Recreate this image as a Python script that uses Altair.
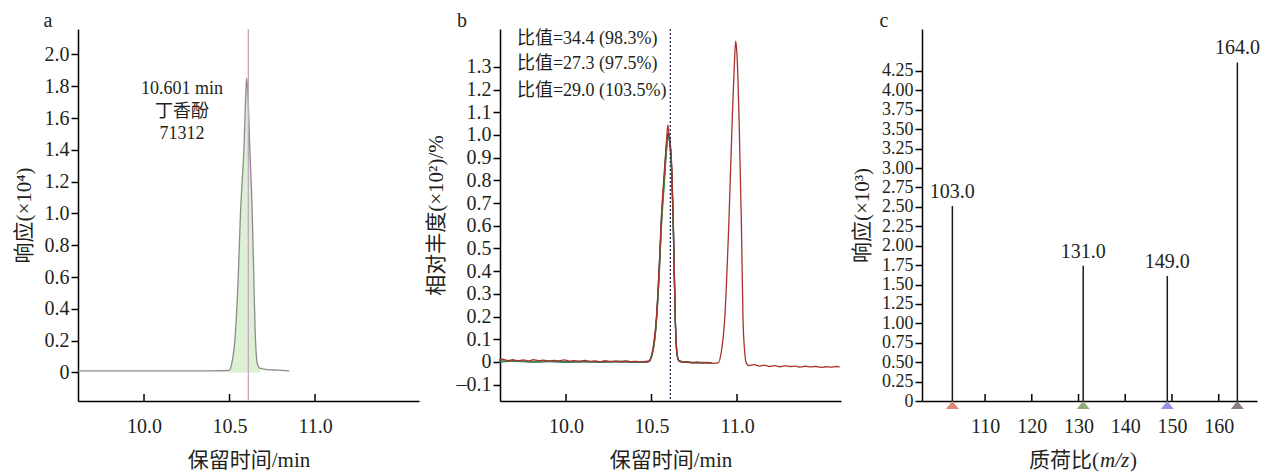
import altair as alt
import pandas as pd

# ---------------- data ----------------
# panel a: total ion chromatogram of 丁香酚
A_TIME = [9.61, 9.80, 10.00, 10.20, 10.40, 10.497, 10.512, 10.531, 10.551, 10.564, 10.584, 10.597,
          10.600, 10.605, 10.619, 10.633, 10.642, 10.652, 10.664, 10.68, 10.72, 10.78, 10.85]
A_RESP = [0.010, 0.010, 0.010, 0.010, 0.010, 0.012, 0.05, 0.20, 0.60, 1.00, 1.40, 1.80,
          1.85, 1.80, 1.40, 1.00, 0.60, 0.20, 0.05, 0.025, 0.018, 0.014, 0.010]
A_MARK_TIME = [10.61]
A_LABELS = ["10.601 min", "丁香酚", "71312"]
A_LABEL_Y = [1.785, 1.64, 1.50]
A_LABEL_X = [10.222, 10.222, 10.222]

# panel b: qualifier ion traces
Q_TIME = [9.61, 9.70, 9.80, 9.90, 10.00, 10.10, 10.20, 10.30, 10.40, 10.48, 10.505, 10.528, 10.545,
          10.557, 10.576, 10.588, 10.597, 10.607, 10.619, 10.627, 10.639, 10.648, 10.66, 10.70,
          10.75, 10.80, 10.85]
GREEN = [0.002, 0.004, 0.001, 0.003, 0.0, 0.002, -0.001, 0.002, 0.0, 0.001, 0.035, 0.17, 0.38,
         0.58, 0.80, 0.93, 0.99, 0.96, 0.80, 0.60, 0.18, 0.04, 0.006, 0.0, -0.002, -0.003, -0.004]
BLUE = [0.001, 0.003, 0.0, 0.002, -0.001, 0.001, 0.0, 0.001, -0.001, 0.0, 0.04, 0.18, 0.40,
        0.60, 0.82, 0.95, 1.0, 0.97, 0.82, 0.61, 0.19, 0.045, 0.004, -0.002, -0.004, -0.003, -0.005]
BLACK = [0.003, 0.005, 0.002, 0.004, 0.001, 0.003, 0.0, 0.003, 0.001, 0.002, 0.04, 0.18, 0.41,
         0.61, 0.83, 0.96, 1.01, 0.98, 0.83, 0.62, 0.19, 0.045, 0.005, -0.001, -0.003, -0.002, -0.004]
RED_TIME = [9.61, 9.63, 9.66, 9.69, 9.72, 9.75, 9.78, 9.81, 9.84, 9.87, 9.90, 9.93, 9.96, 9.99,
            10.02, 10.05, 10.08, 10.11, 10.14, 10.17, 10.20, 10.23, 10.26, 10.29, 10.32, 10.35,
            10.38, 10.41, 10.44, 10.47,
            10.49, 10.505, 10.528, 10.545, 10.557, 10.576, 10.588, 10.595, 10.603, 10.612, 10.619,
            10.627, 10.639, 10.648, 10.66,
            10.68, 10.71, 10.74, 10.77, 10.80, 10.83, 10.86,
            10.889, 10.908, 10.928, 10.953, 10.972, 10.985, 10.992, 11.0, 11.012, 11.025, 11.035,
            11.045, 11.054,
            11.07, 11.10, 11.13, 11.16, 11.19, 11.22, 11.25, 11.28, 11.31, 11.34, 11.37, 11.40,
            11.43, 11.46, 11.49, 11.52, 11.55, 11.58, 11.6]
RED = [0.008, 0.012, 0.006, 0.010, 0.005, 0.009, 0.004, 0.010, 0.006, 0.008,
       0.003, 0.007, 0.005, 0.009, 0.004, 0.006, 0.002, 0.007, 0.003, 0.005,
       0.001, 0.006, 0.002, 0.004, 0.0, 0.005, 0.001, 0.003, 0.0, 0.002,
       0.004, 0.044, 0.19, 0.42, 0.63, 0.85, 0.98, 1.044, 1.0, 0.93, 0.85, 0.63, 0.19, 0.044, 0.006,
       -0.002, 0.001, -0.004, 0.0, -0.005, -0.002, -0.006,
       -0.004, 0.044, 0.19, 0.63, 1.07, 1.32, 1.415, 1.35, 1.07, 0.63, 0.19, 0.044, -0.005,
       -0.016, -0.012, -0.018, -0.014, -0.020, -0.016, -0.021, -0.017, -0.020, -0.018, -0.023,
       -0.019, -0.022, -0.020, -0.024, -0.021, -0.023, -0.020, -0.022]
B_MARK_TIME = [10.61]
B_LABELS = ["比值=34.4 (98.3%)", "比值=27.3 (97.5%)", "比值=29.0 (103.5%)"]
B_LABEL_Y = [1.423, 1.313, 1.194]
B_LABEL_X = [9.713, 9.713, 9.713]

# panel c: mass spectrum
MZ = [103.0, 131.0, 149.0, 164.0]
MZ_RESP = [2.51, 1.74, 1.61, 4.36]
MZ_COLORS = ["#d98a70", "#8fae78", "#9393e0", "#8a7d7f"]
C_XTITLE = ["质荷比(", "m/z", ")"]

A_YTICKS = [0, 0.2, 0.4, 0.6, 0.8, 1.0, 1.2, 1.4, 1.6, 1.8, 2.0]
B_YTICKS = [-0.1, 0, 0.1, 0.2, 0.3, 0.4, 0.5, 0.6, 0.7, 0.8, 0.9, 1.0, 1.1, 1.2, 1.3]
C_YTICKS = [0, 0.25, 0.5, 0.75, 1.0, 1.25, 1.5, 1.75, 2.0, 2.25, 2.5, 2.75, 3.0, 3.25, 3.5,
            3.75, 4.0, 4.25]
T_XTICKS = [10.0, 10.5, 11.0]
C_XTICKS = [110, 120, 130, 140, 150, 160]

# ---------------- style ----------------
SERIF = "'Liberation Serif', 'Times New Roman', serif"
MIXED = "'Liberation Serif', 'Noto Sans CJK SC', serif"
INK = "#231f20"
W_AB, W_C, H = 341, 335, 372


def y_axis(values, title, expr, tpad, lsize=20):
    return alt.Axis(values=values, tickCount=100, title=title, labelExpr=expr, grid=False,
                    domainColor="black", domainWidth=1.5, tickColor="black", tickWidth=1.5,
                    tickSize=7, labelFont=SERIF, labelFontSize=lsize, labelColor=INK,
                    labelPadding=2, labelOverlap=False, labelFlush=False,
                    titleFont=MIXED, titleFontSize=21, titleFontWeight="normal",
                    titleColor=INK, titlePadding=tpad)


def x_axis(values, title, fmt):
    return alt.Axis(values=values, tickCount=100, title=title, format=fmt, grid=False, ticks=False,
                    domainColor="black", domainWidth=1.5, labelFont=SERIF, labelFontSize=20,
                    labelColor=INK, labelPadding=15, labelOverlap=False, labelFlush=False,
                    titleFont=MIXED, titleFontSize=21,
                    titleFontWeight="normal", titleColor=INK, titlePadding=13)


def up_ticks(values, field, scale):
    df = pd.DataFrame({field: values})
    return alt.Chart(df).mark_rule(color="black", strokeWidth=1.5).encode(
        x=alt.X(f"{field}:Q", scale=scale), y=alt.value(H), y2=alt.value(H - 7))


def letter(ch, dx):
    return alt.Chart(pd.DataFrame({"t": [ch]})).mark_text(
        font=SERIF, fontSize=20, color=INK, align="center", baseline="middle").encode(
        text="t:N", x=alt.value(dx), y=alt.value(-8))


ZERO_1 = "datum.value == 0 ? '0' : (datum.value < 0 ? '\u2013' + format(-datum.value, '.1f') : format(datum.value, '.1f'))"
ZERO_2 = "datum.value == 0 ? '0' : format(datum.value, '.2f')"

# ---------------- panel a ----------------
xs_t = alt.Scale(domain=[9.614, 11.608], nice=False, zero=False)
ys_a = alt.Scale(domain=[-0.18, 2.16], nice=False, zero=False)
dfa = pd.DataFrame({"t": A_TIME, "r": A_RESP})

a_fill = alt.Chart(dfa).transform_filter("datum.t >= 10.49 && datum.t <= 10.70").mark_area(
    color="#dcf0d4", interpolate="monotone").encode(
    x=alt.X("t:Q", scale=xs_t, axis=x_axis(T_XTICKS, "保留时间/min", ".1f")),
    y=alt.Y("r:Q", scale=ys_a, axis=y_axis(A_YTICKS, "响应(×10⁴)", ZERO_1, 10)))
a_line = alt.Chart(dfa).mark_line(color="#8c8c8c", strokeWidth=1.3, interpolate="monotone").encode(
    x=alt.X("t:Q", scale=xs_t), y=alt.Y("r:Q", scale=ys_a))
a_rule = alt.Chart(pd.DataFrame({"t": A_MARK_TIME})).mark_rule(
    color="#c8a6c4", strokeWidth=1.3).encode(x=alt.X("t:Q", scale=xs_t))
a_text = alt.Chart(pd.DataFrame({"x": A_LABEL_X, "y": A_LABEL_Y, "s": A_LABELS})).mark_text(
    font=MIXED, fontSize=18, color=INK, align="center", baseline="middle").encode(
    x=alt.X("x:Q", scale=xs_t), y=alt.Y("y:Q", scale=ys_a), text="s:N")
panel_a = alt.layer(a_fill, a_line, a_rule, a_text, up_ticks(T_XTICKS, "t", xs_t),
                    letter("a", -30)).properties(width=W_AB, height=H)

# ---------------- panel b ----------------
ys_b = alt.Scale(domain=[-0.172, 1.467], nice=False, zero=False)


def trace(times, vals, color, first=False):
    df = pd.DataFrame({"t": times, "r": vals})
    if first:
        x = alt.X("t:Q", scale=xs_t, axis=x_axis(T_XTICKS, "保留时间/min", ".1f"))
        y = alt.Y("r:Q", scale=ys_b, axis=y_axis(B_YTICKS, "相对丰度(×10²)/%", ZERO_1, 10))
    else:
        x = alt.X("t:Q", scale=xs_t)
        y = alt.Y("r:Q", scale=ys_b)
    return alt.Chart(df).mark_line(color=color, strokeWidth=1.3, interpolate="monotone").encode(x=x, y=y)


b_rule = alt.Chart(pd.DataFrame({"t": B_MARK_TIME})).mark_rule(
    color="#2e2e52", strokeWidth=1.3, strokeDash=[2, 2]).encode(x=alt.X("t:Q", scale=xs_t))
b_text = alt.Chart(pd.DataFrame({"x": B_LABEL_X, "y": B_LABEL_Y, "s": B_LABELS})).mark_text(
    font=MIXED, fontSize=18, color=INK, align="left", baseline="middle").encode(
    x=alt.X("x:Q", scale=xs_t), y=alt.Y("y:Q", scale=ys_b), text="s:N")
panel_b = alt.layer(trace(Q_TIME, BLACK, "#2a2a2a", first=True), trace(Q_TIME, BLUE, "#3c4f9c"),
                    trace(Q_TIME, GREEN, "#3d8a3d"), trace(RED_TIME, RED, "#a8322c"),
                    b_rule, b_text, up_ticks(T_XTICKS, "t", xs_t),
                    letter("b", -38)).properties(width=W_AB, height=H)

# ---------------- panel c ----------------
xs_c = alt.Scale(domain=[96.5, 168.2], nice=False, zero=False)
ys_c = alt.Scale(domain=[0, 4.79], nice=False, zero=False)
dfc = pd.DataFrame({"mz": MZ, "r": MZ_RESP, "c": MZ_COLORS,
                    "lab": [f"{v:.1f}" for v in MZ], "zero": [0.0] * len(MZ)})
c_stem = alt.Chart(dfc).mark_rule(color="#1a1a1a", strokeWidth=1.5).encode(
    x=alt.X("mz:Q", scale=xs_c, axis=x_axis(C_XTICKS, None, "d")),
    y=alt.Y("r:Q", scale=ys_c, axis=y_axis(C_YTICKS, "响应(×10³)", ZERO_2, 9, lsize=18)),
    y2=alt.Y2("zero:Q"))
c_lab = alt.Chart(dfc).mark_text(font=SERIF, fontSize=20, color=INK, align="center",
                                 baseline="bottom", dy=-4).encode(
    x=alt.X("mz:Q", scale=xs_c), y=alt.Y("r:Q", scale=ys_c), text="lab:N")
c_tri = alt.Chart(dfc).mark_point(shape="M -1 0.6 L 0 -0.6 L 1 0.6 Z", filled=True, opacity=1,
                                  size=170, yOffset=4, strokeWidth=0).encode(
    x=alt.X("mz:Q", scale=xs_c), y=alt.Y("zero:Q", scale=ys_c),
    color=alt.Color("c:N", scale=None, legend=None))
# x-axis title with italic m/z, built from three text pieces
t_df = pd.DataFrame({"s": C_XTITLE})
c_t1 = alt.Chart(t_df).transform_filter("datum.s == '质荷比('").mark_text(
    font=MIXED, fontSize=21, color=INK, align="right", baseline="middle").encode(
    text="s:N", x=alt.value(177), y=alt.value(H + 60))
c_t2 = alt.Chart(t_df).transform_filter("datum.s == 'm/z'").mark_text(
    font=SERIF, fontSize=21, fontStyle="italic", color=INK, align="left",
    baseline="middle").encode(text="s:N", x=alt.value(178), y=alt.value(H + 60))
c_t3 = alt.Chart(t_df).transform_filter("datum.s == ')'").mark_text(
    font=MIXED, fontSize=21, color=INK, align="left", baseline="middle").encode(
    text="s:N", x=alt.value(208), y=alt.value(H + 60))
panel_c = alt.layer(c_stem, c_lab, c_tri, up_ticks(C_XTICKS, "mz", xs_c),
                    c_t1, c_t2, c_t3, letter("c", -38)).properties(width=W_C, height=H)

chart = alt.hconcat(panel_a, panel_b, panel_c, spacing=81, bounds="flush").properties(
    padding={"left": 5, "top": 3, "right": 0, "bottom": 2}
).configure_view(stroke=None).resolve_scale(x="independent", y="independent")

chart.save("out.html", embed_options={"renderer": "svg", "actions": False})
